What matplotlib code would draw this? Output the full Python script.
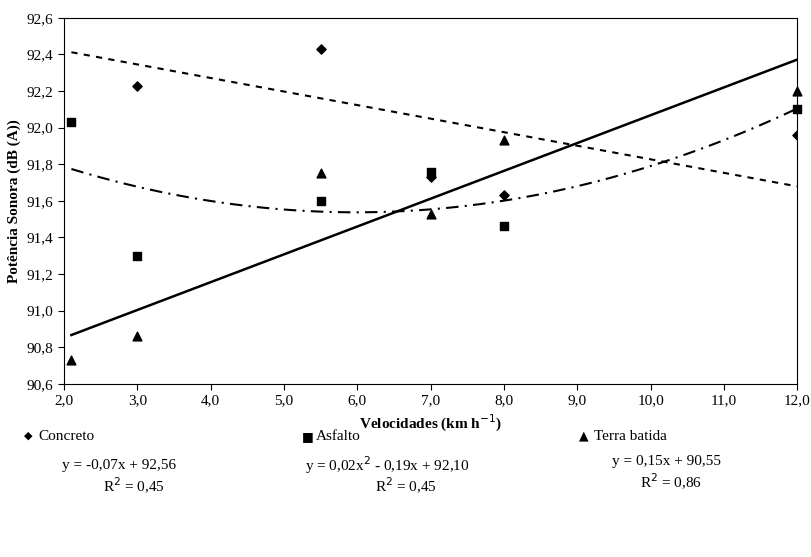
import numpy as np
import matplotlib.pyplot as plt

plt.rcParams['font.family'] = ['Liberation Serif', 'DejaVu Serif']

vel = [2.1, 3.0, 5.5, 7.0, 8.0, 12.0]
# first concreto value lies above the axis limit (not visible in the chart)
concreto = [92.64, 92.23, 92.43, 91.73, 91.63, 91.96]
asfalto = [92.03, 91.30, 91.60, 91.76, 91.46, 92.10]
terra = [90.73, 90.86, 91.75, 91.53, 91.93, 92.20]

fig = plt.figure(figsize=(8.11, 5.57), dpi=100)
ax = fig.add_axes([0.079, 0.311, 0.904, 0.657])

xx = np.linspace(2.1, 12.0, 200)
pc = np.polyfit(vel, concreto, 1)
pa = np.polyfit(vel, asfalto, 2)
pt = np.polyfit(vel, terra, 1)
ax.plot(xx, np.polyval(pc, xx), color='black', ls=(0, (3, 3)), lw=1.5)
ax.plot(xx, np.polyval(pa, xx), color='black', ls=(0, (6, 3, 1, 3)), lw=1.5)
ax.plot(xx, np.polyval(pt, xx), color='black', lw=1.8)

ax.scatter(vel, concreto, marker='D', s=22, color='black', zorder=3)
ax.scatter(vel, asfalto, marker='s', s=30, color='black', zorder=4, clip_on=False)
ax.scatter(vel, terra, marker='^', s=40, color='black', zorder=3, clip_on=False)

ax.set_xlim(2, 12)
ax.set_ylim(90.6, 92.6)
ax.set_xticks(np.arange(2, 12.1, 1))
ax.set_xticklabels([f"{v:.1f}".replace('.', ',') for v in np.arange(2, 12.1, 1)])
yt = np.arange(90.6, 92.61, 0.2)
ax.set_yticks(yt)
ax.set_yticklabels([f"{v:.1f}".replace('.', ',') for v in yt])
ax.tick_params(labelsize=11, direction='out', length=4)
ax.set_xlabel('Velocidades (km h$^{-1}$)', fontsize=11, fontweight='bold')
ax.set_ylabel('Potência Sonora (dB (A))', fontsize=11, fontweight='bold')

# legend + equations
fig.text(0.030, 0.217, '◆', fontsize=8, va='center', family=['DejaVu Sans'])
fig.text(0.047, 0.217, 'Concreto', fontsize=11, va='center')
fig.text(0.372, 0.217, '■', fontsize=9, va='center', family=['DejaVu Sans'])
fig.text(0.390, 0.217, 'Asfalto', fontsize=11, va='center')
fig.text(0.714, 0.217, '▲', fontsize=9, va='center', family=['DejaVu Sans'])
fig.text(0.733, 0.217, 'Terra batida', fontsize=11, va='center')

fig.text(0.147, 0.165, 'y = -0,07x + 92,56', fontsize=11, ha='center', va='center')
fig.text(0.165, 0.128, 'R$^2$ = 0,45', fontsize=11, ha='center', va='center')
fig.text(0.478, 0.165, 'y = 0,02x$^2$ - 0,19x + 92,10', fontsize=11, ha='center', va='center')
fig.text(0.500, 0.128, 'R$^2$ = 0,45', fontsize=11, ha='center', va='center')
fig.text(0.822, 0.172, 'y = 0,15x + 90,55', fontsize=11, ha='center', va='center')
fig.text(0.827, 0.135, 'R$^2$ = 0,86', fontsize=11, ha='center', va='center')

fig.savefig('out.png', dpi=100)
